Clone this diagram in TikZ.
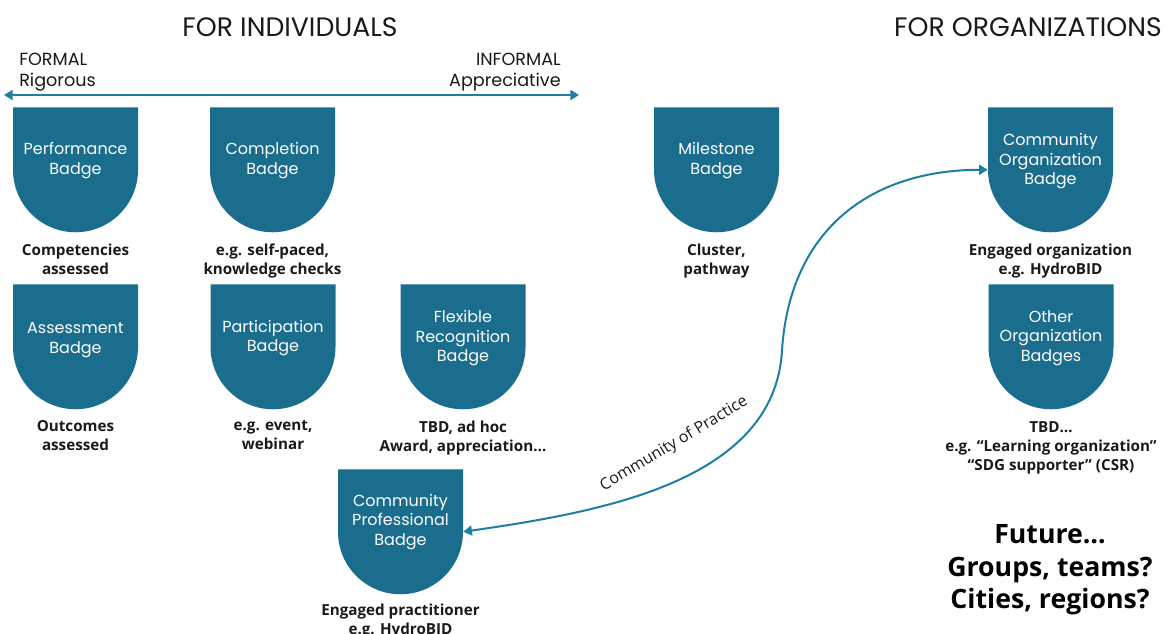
\documentclass[tikz,border=0pt]{standalone}
\usepackage{fontspec}
\setmainfont{Open Sans}
\newfontfamily\geo{Poppins}
\usetikzlibrary{arrows.meta}
\definecolor{badgecol}{HTML}{1B6D8E}
\definecolor{linecol}{HTML}{1F7FA3}
\definecolor{inkcol}{HTML}{1A1A1A}
\begin{document}
\begin{tikzpicture}[x=0.75pt,y=-0.75pt,
  badge/.style={minimum width=93.75pt, minimum height=93.75pt, inner sep=0pt, anchor=north,
    path picture={\fill[badgecol] (path picture bounding box.north west) -- (path picture bounding box.north east)
      -- ([yshift=46.875pt]path picture bounding box.south east) arc[start angle=0,end angle=-180,radius=46.875pt] -- cycle;}},
  btext/.style={text=white, align=center, inner sep=0pt, font=\geo\fontsize{12}{14.5}\selectfont},
  lbl/.style={text=inkcol, align=center, inner sep=0pt, anchor=north, font=\fontsize{11.4}{14.25}\selectfont\bfseries},
  hdr/.style={text=inkcol, inner sep=0pt, font=\geo\fontsize{20}{22}\selectfont},
  axislbl/.style={text=inkcol, inner sep=0pt, font=\geo\fontsize{13.2}{15.75}\selectfont},
  conn/.style={draw=linecol, line width=1.5pt},
  tipped/.style={{Triangle[length=6.5pt,width=7.5pt]}-{Triangle[length=6.5pt,width=7.5pt]}}
]
\fill[white] (0,0) rectangle (1169,634);
\useasboundingbox (0,0) rectangle (1169,634);

% headers
\node[hdr] (hind) at (290,27) {FOR INDIVIDUALS};
\node[hdr] (horg) at (1028,27) {FOR ORGANIZATIONS};

% formal / informal axis
\node[axislbl, anchor=west, align=left] (formal) at (19,72) {FORMAL\\Rigorous};
\node[axislbl, anchor=east, align=right] (informal) at (561,72) {INFORMAL\\Appreciative};
\coordinate (aL) at (4,95);
\coordinate (aR) at (579,95);
\draw[conn, tipped] (aL) -- (aR);

% badges
\node[badge] (perf) at (75.5,107) {};
\node[badge] (comp) at (272.5,107) {};
\node[badge] (mile) at (716.5,107) {};
\node[badge] (corg) at (1050.5,107) {};
\node[badge] (asse) at (75.5,284) {};
\node[badge] (part) at (273,284) {};
\node[badge] (flex) at (463,284) {};
\node[badge] (oorg) at (1051,284) {};
\node[badge] (cprof) at (400.5,469) {};

% badge texts
\node[btext] (perf-t) at ([yshift=7pt]perf.center) {Performance\\Badge};
\node[btext] (comp-t) at ([yshift=7pt]comp.center) {Completion\\Badge};
\node[btext] (mile-t) at ([yshift=7pt]mile.center) {Milestone\\Badge};
\node[btext] (corg-t) at ([yshift=6.5pt]corg.center) {Community\\Organization\\Badge};
\node[btext] (asse-t) at ([yshift=5pt]asse.center) {Assessment\\Badge};
\node[btext] (part-t) at ([yshift=6.5pt]part.center) {Participation\\Badge};
\node[btext] (flex-t) at ([yshift=6.5pt]flex.center) {Flexible\\Recognition\\Badge};
\node[btext] (oorg-t) at ([yshift=6.5pt]oorg.center) {Other\\Organization\\Badges};
\node[btext] (cprof-t) at ([yshift=7.5pt]cprof.center) {Community\\Professional\\Badge};

% labels under badges
\node[lbl] (perf-l) at ([yshift=-8pt]perf.south) {Competencies\\assessed};
\node[lbl] (comp-l) at ([yshift=-8pt]comp.south) {e.g. self-paced,\\knowledge checks};
\node[lbl] (mile-l) at ([yshift=-8pt]mile.south) {Cluster,\\pathway};
\node[lbl] (corg-l) at ([yshift=-8pt]corg.south) {Engaged organization\\e.g. HydroBID};
\node[lbl] (asse-l) at ([yshift=-8pt]asse.south) {Outcomes\\assessed};
\node[lbl] (part-l) at ([yshift=-8pt]part.south) {e.g. event,\\webinar};
\node[lbl] (flex-l) at ([yshift=-8pt]flex.south) {TBD, ad hoc\\Award, appreciation…};
\node[lbl] (oorg-l) at ([yshift=-9pt]oorg.south) {TBD…\\e.g. “Learning organization”\\“SDG supporter” (CSR)};
\node[lbl] (cprof-l) at ([yshift=-7pt]cprof.south) {Engaged practitioner\\e.g. HydroBID};

% future
\node[text=black, align=center, inner sep=0pt, font=\fontsize{20}{24.4}\selectfont\bfseries] (future) at (1050,570) {Future…\\Groups, teams?\\Cities, regions?};

% community of practice connector
\coordinate (cmid) at (782,350);
\draw[conn, tipped]
  (cprof.east) .. controls (600,512) and (775,482) .. (cmid)
  .. controls (790,230) and (870,170) .. (corg.west);
\node[text=inkcol, inner sep=0pt, rotate=31, font=\fontsize{12}{14}\selectfont] (cop) at (674,444) {Community of Practice};
\end{tikzpicture}
\end{document}
